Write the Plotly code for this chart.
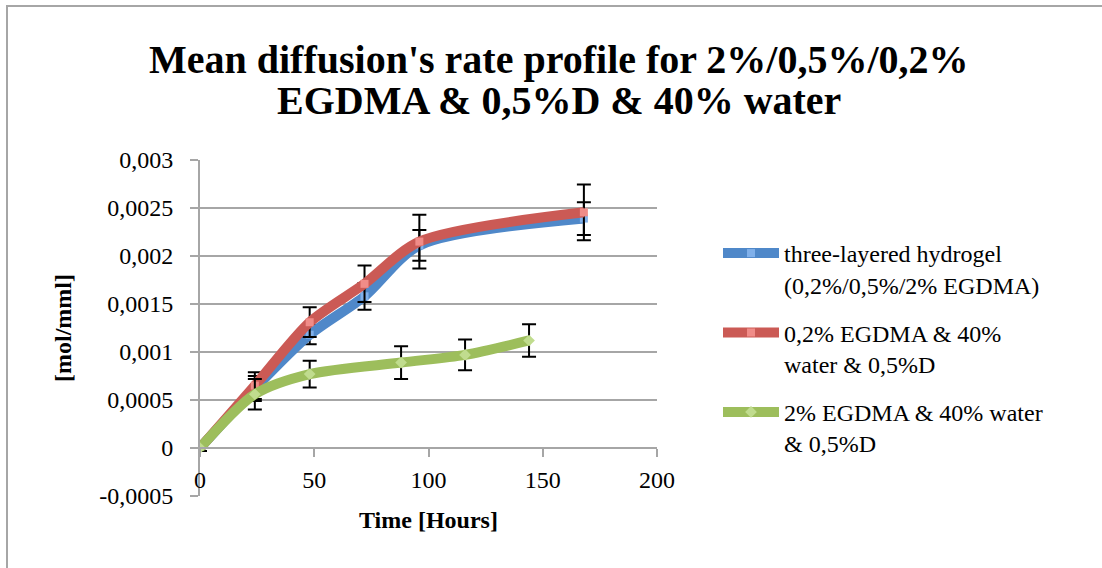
import plotly.graph_objects as go

# ---- data ----
hours_a = [0, 24, 48, 72, 96, 168]
three_layer = [0.0, 0.00062, 0.00118, 0.00158, 0.00211, 0.00239]
three_layer_err = [0.00003, 0.00013, 0.00010, 0.00014, 0.00016, 0.00017]

low_egdma = [0.0, 0.00065, 0.00131, 0.00171, 0.00215, 0.002455]
low_egdma_err = [0.00003, 0.00014, 0.000155, 0.00019, 0.00028, 0.00029]

hours_b = [0, 24, 48, 88, 116, 144]
high_egdma = [0.0, 0.00056, 0.00077, 0.00089, 0.00097, 0.00112]
high_egdma_err = [0.00003, 0.00016, 0.00014, 0.00017, 0.00016, 0.00017]

y_ticks = [-0.0005, 0, 0.0005, 0.001, 0.0015, 0.002, 0.0025, 0.003]
y_tick_text = ["-0,0005", "0", "0,0005", "0,001", "0,0015", "0,002", "0,0025", "0,003"]
x_ticks = [0, 50, 100, 150, 200]

names = [
    "three-layered hydrogel<br>(0,2%/0,5%/2% EGDMA)",
    "0,2% EGDMA & 40%<br>water & 0,5%D",
    "2% EGDMA & 40% water<br>& 0,5%D",
]
title_lines = ["Mean diffusion's rate profile for 2%/0,5%/0,2%",
               "EGDMA & 0,5%D & 40% water"]

FONT = "Liberation Serif"
W, H = 1102, 568
L, R, T, B = 200, 445, 160, 72
pw, ph = W - L - R, H - T - B


def px_x(px):
    return (px - L) / pw


def px_y(py):
    return (H - B - py) / ph


fig = go.Figure()

series = [
    (hours_a, three_layer, three_layer_err, names[0], "#4F88C9", "#80B0EA", "square", 8, "a"),
    (hours_a, low_egdma, low_egdma_err, names[1], "#CB5A55", "#F08C88", "square", 8, "b"),
    (hours_b, high_egdma, high_egdma_err, names[2], "#9DBE5C", "#C0DC8E", "diamond", 9, "c"),
]
for xs, ys, es, nm, lc, mc, sym, ms, grp in series:
    fig.add_trace(go.Scatter(
        x=xs, y=ys, name=nm, mode="lines+markers", legendgroup=grp,
        line=dict(color=lc, width=10, shape="spline", smoothing=0.8),
        marker=dict(color=mc, size=ms, symbol=sym, line=dict(width=0)),
        error_y=dict(type="data", array=es, visible=True, color="black",
                     thickness=2, width=7),
    ))

y0_frac = 0.0005 / 0.0035

fig.update_layout(
    width=W, height=H,
    margin=dict(l=L, r=R, t=T, b=B, autoexpand=False),
    paper_bgcolor="white", plot_bgcolor="white",
    font=dict(family=FONT, size=24, color="black"),
    xaxis=dict(
        range=[0, 200], tickvals=x_ticks, ticks="outside", ticklen=8,
        tickcolor="#A6A6A6", tickwidth=2,
        showline=True, linecolor="#A6A6A6", linewidth=2,
        showgrid=False, zeroline=False,
        anchor="free", position=y0_frac,
        tickfont=dict(size=24), ticklabelstandoff=2,
    ),
    yaxis=dict(
        range=[-0.0005, 0.003], tickvals=y_ticks, ticktext=y_tick_text,
        ticks="outside", ticklen=8, tickcolor="#A6A6A6", tickwidth=2,
        showline=True, linecolor="#A6A6A6", linewidth=2,
        showgrid=True, gridcolor="#A6A6A6", gridwidth=2,
        zeroline=False, tickfont=dict(size=24), ticklabelstandoff=12,
    ),
    showlegend=True,
    legend=dict(
        x=px_x(718), xanchor="left",
        y=px_y(231), yanchor="top",
        font=dict(family=FONT, size=24), itemwidth=56,
        traceorder="grouped", tracegroupgap=14, valign="top",
        bgcolor="rgba(0,0,0,0)",
    ),
)

# title as two lines (tight line spacing)
for txt, ypx in zip(title_lines, [60, 101]):
    fig.add_annotation(
        text="<b>" + txt + "</b>", xref="paper", yref="paper",
        x=px_x(559), y=px_y(ypx), showarrow=False,
        font=dict(family=FONT, size=40), xanchor="center", yanchor="middle",
    )

# axis titles
fig.add_annotation(
    text="<b>Time [Hours]</b>", xref="paper", yref="paper",
    x=px_x(428), y=px_y(520), showarrow=False,
    font=dict(family=FONT, size=24), xanchor="center", yanchor="middle",
)
fig.add_annotation(
    text="<b>[mol/mml]</b>", xref="paper", yref="paper",
    x=px_x(63), y=px_y(328), showarrow=False, textangle=-90,
    font=dict(family=FONT, size=24), xanchor="center", yanchor="middle",
)

# outer chart border
fig.add_shape(
    type="rect", xref="paper", yref="paper",
    x0=px_x(7), x1=px_x(W + 10),
    y0=px_y(H + 10), y1=px_y(6),
    line=dict(color="#A6A6A6", width=2), fillcolor="rgba(0,0,0,0)", layer="below",
)

fig.write_html("out.html", config={"displayModeBar": False},
               post_script="document.body.style.margin='0';")
